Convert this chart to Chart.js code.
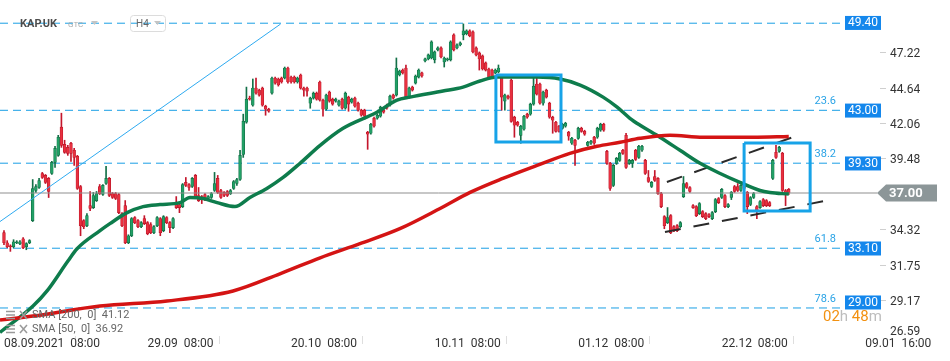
<!DOCTYPE html>
<html><head><meta charset="utf-8">
<script src="https://cdn.jsdelivr.net/npm/chart.js@4.4.1/dist/chart.umd.min.js"></script>
<style>html,body{margin:0;padding:0;background:#fff;overflow:hidden}#wrap{width:950px;height:361px;position:relative}</style>
</head><body><div id="wrap"><canvas id="c" width="950" height="361"></canvas></div>
<script>
// ---- candle data (H4, KAP.UK) ----
const opens=[34.11,33.38,33.16,33.09,33.38,33.31,33.67,33.09,33.38,34.99,
37.18,37.40,38.42,38.28,38.06,38.42,39.23,39.74,41.79,40.54,
40.32,40.62,40.11,39.67,37.47,34.99,34.62,36.08,35.94,36.45,
37.47,36.89,37.69,38.06,36.96,36.96,36.89,35.50,36.08,33.38,
33.89,35.21,34.99,34.55,35.14,34.84,34.70,34.11,34.62,35.14,
34.26,35.21,34.84,34.48,36.23,36.16,36.01,37.77,37.62,37.47,
38.28,36.82,36.74,36.89,36.60,36.67,37.18,38.06,37.18,37.04,
37.11,36.96,37.33,37.69,37.98,39.81,42.15,43.91,43.39,44.64,
44.49,44.64,43.32,43.10,44.27,45.37,45.30,45.37,45.37,46.10,
45.44,45.44,45.08,45.59,44.64,44.64,43.54,43.91,44.27,45.08,
43.76,43.10,44.35,43.83,43.69,43.39,43.83,43.17,43.98,43.61,
43.91,43.54,43.03,43.03,41.42,41.35,42.44,42.44,42.59,43.03,
43.39,43.39,44.13,44.13,45.59,45.95,46.10,43.98,44.71,45.00,
45.44,45.74,46.61,46.76,46.83,46.69,47.42,47.56,46.54,46.69,
46.69,48.51,47.56,47.78,48.51,48.59,48.81,48.73,47.56,47.20,
46.98,46.47,46.03,45.95,45.74,45.81,45.37,43.69,44.05,45.22,
42.52,42.15,41.20,41.64,42.74,42.74,43.47,44.93,44.93,43.54,
44.49,43.54,42.52,42.15,41.86,41.71,41.86,41.42,40.62,40.84,
40.98,41.71,41.49,40.47,40.62,41.06,41.06,41.57,42.00,40.03,
39.16,37.55,39.16,39.37,40.11,41.20,39.16,39.16,40.11,39.59,
40.11,39.37,38.13,37.47,38.20,38.06,36.96,35.28,34.84,35.35,
34.55,34.62,34.55,36.74,37.69,37.40,36.08,36.01,35.50,35.65,
35.50,35.43,35.14,35.65,36.60,36.67,36.82,36.01,36.67,37.47,
37.47,37.18,37.69,37.04,36.16,36.67,36.01,35.94,36.52,36.45,
36.30,38.06,39.96,40.03,39.89,37.18,37.26];
const highs=[34.26,33.53,33.23,33.60,33.53,33.53,33.75,33.38,33.60,37.98,
37.62,38.06,38.50,38.35,38.13,39.30,40.40,41.20,42.81,40.84,
40.47,40.69,40.25,39.74,37.55,35.06,35.50,37.11,37.04,37.11,
37.62,37.62,38.94,38.13,37.04,37.04,36.96,35.57,36.45,33.96,
35.21,35.28,35.06,34.92,35.35,34.92,34.84,34.62,35.28,35.21,
35.35,35.28,34.92,35.21,36.74,36.23,37.69,38.13,37.69,38.13,
38.35,37.40,36.82,36.96,36.82,37.04,38.50,38.28,37.26,37.11,
37.18,37.26,37.91,38.06,40.11,42.74,44.71,44.05,45.30,45.37,
44.56,44.71,43.39,43.17,45.44,45.44,45.37,45.44,46.17,46.17,
45.52,45.52,45.44,45.66,44.71,44.71,43.98,44.35,44.35,45.15,
43.83,44.20,44.42,43.91,43.91,43.76,43.91,44.35,44.05,43.91,
43.98,43.61,43.10,43.10,41.49,42.08,42.52,42.74,43.32,43.10,
43.47,44.13,44.20,46.83,45.95,46.03,46.32,44.71,44.78,45.59,
46.03,45.81,46.83,47.12,48.08,47.34,47.64,47.64,46.90,46.83,
48.08,48.59,47.86,48.00,49.31,48.88,48.88,48.81,47.64,47.27,
47.05,46.54,46.10,46.03,46.03,46.32,45.44,44.20,44.13,45.30,
42.59,42.22,41.93,42.66,42.81,43.54,45.37,45.37,45.00,44.42,
44.56,43.61,42.59,42.22,41.93,42.08,42.15,41.49,41.06,40.91,
41.79,41.79,41.57,40.76,40.84,41.13,41.79,42.08,42.08,40.11,
39.23,39.08,39.59,39.96,40.18,41.35,39.45,39.45,40.18,40.47,
40.47,39.45,38.64,37.84,38.64,38.13,37.04,35.35,35.94,35.43,
34.62,34.70,34.92,38.20,37.77,37.47,36.16,36.08,36.30,35.72,
35.57,35.50,35.65,36.60,36.67,37.33,36.89,36.23,37.11,37.55,
37.69,37.62,37.77,37.11,36.74,37.04,36.08,36.45,36.60,36.52,
36.38,39.45,40.47,40.40,39.96,37.26,37.33];
const lows=[33.23,33.01,32.75,33.01,33.31,33.23,32.94,32.87,33.31,34.92,
37.04,37.33,38.06,37.69,36.67,38.35,38.86,39.67,40.32,39.89,
39.74,39.30,39.01,37.26,33.89,34.40,34.55,35.72,35.87,36.38,
36.89,36.82,37.62,36.74,36.60,36.52,35.50,34.55,33.31,33.31,
33.82,34.77,34.48,34.48,34.70,33.96,34.04,34.04,34.55,33.89,
34.18,34.77,34.11,34.40,35.87,35.57,35.94,37.47,37.18,37.40,
36.67,36.38,36.23,36.45,36.52,36.60,37.11,36.96,36.60,36.74,
36.74,36.89,37.26,37.55,37.91,39.59,42.08,43.76,43.32,44.20,
44.05,43.32,42.66,42.88,44.20,44.93,44.78,45.00,45.30,45.00,
45.00,45.00,45.00,44.56,44.05,44.05,43.17,43.83,43.76,43.69,
42.59,43.03,43.61,43.39,43.61,43.32,43.10,43.10,42.95,43.54,
43.25,42.95,42.59,42.37,40.18,41.28,41.79,42.37,42.52,42.81,
43.10,43.32,43.83,44.05,45.52,45.66,43.91,43.91,44.42,44.93,
45.37,45.44,46.54,46.69,46.76,46.47,47.34,46.83,46.17,46.61,
46.61,47.34,47.49,47.71,48.15,48.51,48.37,47.20,46.98,45.95,
45.95,45.88,45.37,45.37,45.66,45.74,43.03,43.03,43.83,42.15,
41.06,41.86,40.62,41.57,42.44,42.66,43.39,44.13,43.47,43.39,
43.91,42.44,41.35,41.42,41.42,41.64,41.79,40.84,40.54,39.01,
40.91,41.42,41.20,40.40,40.54,40.54,40.98,41.49,41.49,39.08,
37.18,37.47,39.08,39.30,39.81,38.79,39.08,38.86,39.37,39.52,
40.03,38.35,37.77,37.40,37.84,36.89,35.94,34.40,34.77,34.04,
34.18,34.18,34.48,36.67,37.33,37.04,35.87,35.28,35.43,35.21,
35.06,35.21,35.06,35.57,36.23,36.60,35.94,35.94,36.52,37.04,
37.11,37.11,37.26,35.50,36.08,36.60,35.14,35.87,36.01,36.01,
36.01,37.98,39.52,39.96,37.11,36.08,36.89];
const closes=[33.38,33.09,33.09,33.45,33.45,33.45,33.01,33.31,33.53,37.33,
37.47,37.91,38.13,37.77,37.11,39.23,40.25,41.06,40.47,39.96,
39.89,39.89,39.59,37.33,34.62,34.55,35.35,35.87,36.82,36.96,
36.96,37.55,38.06,36.82,36.67,36.60,35.57,34.62,33.38,33.89,
35.14,34.84,34.55,34.84,34.77,34.04,34.11,34.55,35.21,34.11,
35.28,34.84,34.48,35.14,35.94,35.94,37.62,37.55,37.40,38.06,
36.74,36.45,36.52,36.52,36.74,36.96,37.69,37.04,36.67,36.82,
36.82,37.18,37.84,37.98,39.74,42.22,43.83,43.83,44.64,44.27,
44.13,43.39,43.10,42.95,45.37,45.00,44.86,45.08,46.10,45.08,
45.08,45.08,45.37,44.64,44.49,44.42,43.91,44.27,43.83,43.76,
43.10,44.13,43.69,43.47,43.83,43.69,43.17,44.27,43.47,43.83,
43.32,43.03,42.66,42.59,41.28,42.00,41.86,42.66,43.25,42.88,
43.17,44.05,43.91,46.10,45.88,45.74,43.98,44.64,44.49,45.52,
45.95,45.52,46.76,47.05,48.00,47.27,47.56,46.90,46.83,46.76,
48.00,47.42,47.78,47.93,48.81,48.81,48.44,47.27,47.05,46.76,
46.03,45.95,45.44,45.44,45.95,46.10,43.98,44.13,43.91,42.22,
41.93,41.93,41.86,42.59,42.52,43.47,44.78,44.20,43.54,44.35,
43.98,42.52,42.30,41.49,41.49,42.00,42.08,41.13,40.98,40.47,
41.71,41.49,41.28,40.69,40.76,40.62,41.71,42.00,41.57,39.16,
37.33,39.01,39.52,39.89,39.89,38.86,39.37,39.37,39.45,40.40,
40.40,38.42,37.84,37.77,37.91,36.96,36.01,34.62,35.21,34.11,
34.26,34.26,34.84,37.69,37.40,37.11,35.94,35.35,36.23,35.28,
35.14,35.28,35.57,36.52,36.30,37.26,36.01,36.16,37.04,37.11,
37.18,37.55,37.33,36.01,36.67,36.96,35.65,36.38,36.08,36.08,
36.08,39.37,39.59,40.32,37.18,36.89,37.00];

// ---- moving averages ----
const sma50Idx=[-1.25,9.1,13.5,20.1,22.9,30.1,33.2,38.6,43.6,48.9,55.2,58.3,62.4,66.8,72.4,77.1,82.4,87.5,92.8,99.1,106.3,116.9,123.2,127.3,137.6,143.9,149.2,154.5,167.1,174.3,180.6,187.8,192.2,196.2,199.4,205.6,211.9,218.2,224.5,230.7,237,240.1,246];
const sma50Val=[26.85,28.77,29.87,32.07,32.94,34.26,34.77,35.57,36.01,36.16,36.30,36.67,36.60,36.30,36.01,36.67,37.33,38.13,39.16,40.47,41.71,42.88,43.76,43.98,44.42,44.71,45.15,45.44,45.44,45.30,44.86,43.98,43.25,42.44,41.93,41.06,40.11,39.16,38.42,37.77,37.18,37.04,36.92];
const sma200Idx=[-1.25,9.1,30.1,51.1,71.8,86.5,99.1,111.6,124.1,136.7,146.1,156.4,167.1,177.4,185.9,193.1,199.4,208.8,219.1,234.8,246];
const sma200Val=[27.75,28.04,28.77,29.14,29.87,31.12,32.28,33.31,34.40,35.87,37.04,38.06,39.01,39.89,40.40,40.69,40.98,41.20,41.06,41.06,41.12];

// ---- axes ----
const xTickIdx=[0,45,90,135,180,225,270];
const xTickLabels=['08.09.2021  08:00','29.09  08:00','20.10  08:00','10.11  08:00','01.12  08:00','22.12  08:00','09.01  16:00'];
const yTickVals=[29.17,31.75,34.32,39.48,42.06,44.64,47.22];
const yBottomLabel=26.59;

// ---- drawing tools / annotations ----
const fibLevels=[49.36,43.02,39.17,32.98,28.63];
const fibNames=['0.0','23.6','38.2','61.8','78.6'];
const fibBoxText=['49.40','43.00','39.30','33.10','29.00'];
const fibBoxAt=[49.38,43.00,39.15,32.96,29.03];
const lastPrice=37.00;
const trendIdx=[-1.25,86.7], trendVal=[34.92,49.30];
const chanUpIdx=[207.8,248.3], chanUpVal=[37.80,41.15];
const chanLoIdx=[207.2,258.9], chanLoVal=[34.16,36.49];
const rect1Idx=[154.2,174.6], rect1Val=[45.59,40.71];
const rect2Idx=[232.0,252.7], rect2Val=[40.64,35.69];
const lineEndIdx=263.6, priceLineEndIdx=273.7, xMin=-1.25, xMax=274.6;
const sma200Last=41.12, sma50Last=36.92;

Chart.defaults.font.family='Roboto';
const idx=opens.map((_,i)=>i);
const isUp=i=>closes[i]>=opens[i];
const seg=(xs,ys)=>xs.map((v,k)=>({x:v,y:ys[k]}));
const rect=(xs,ys)=>[{x:xs[0],y:ys[0]},{x:xs[1],y:ys[0]},{x:xs[1],y:ys[1]},{x:xs[0],y:ys[1]},{x:xs[0],y:ys[0]}];
const lineDs=(data,color,width,dash,order,extra)=>Object.assign({type:'line',data,borderColor:color,borderWidth:width,borderDash:dash||[],pointRadius:0,fill:false,tension:0,order},extra||{});

const datasets=[
  {type:'bar',data:idx.map(i=>({x:i,y:[lows[i],highs[i]]})),backgroundColor:c=>isUp(c.dataIndex)?'#137048':'#c4162c',barThickness:1,grouped:false,order:5},
  {type:'bar',data:idx.map(i=>({x:i,y:[opens[i],closes[i]]})),backgroundColor:c=>isUp(c.dataIndex)?'#22a066':'#e8303f',borderColor:c=>isUp(c.dataIndex)?'#0f6b42':'#b81528',borderWidth:0.6,borderSkipped:false,barThickness:2.8,minBarLength:1,grouped:false,order:4},
  lineDs(seg(sma200Idx,sma200Val),'#d41414',3.5,null,1,{tension:0.4,cubicInterpolationMode:'monotone'}),
  lineDs(seg(sma50Idx,sma50Val),'#0e7c4c',3.5,null,1,{tension:0.4,cubicInterpolationMode:'monotone'}),
  lineDs(seg([xMin,priceLineEndIdx],[lastPrice,lastPrice]),'#8f8f8f',1,null,3),
  lineDs(seg(trendIdx,trendVal),'#2eaaf0',1,null,2),
  lineDs(seg(chanUpIdx,chanUpVal),'#2a2a2a',2,[16,13],2),
  lineDs(seg(chanLoIdx,chanLoVal),'#2a2a2a',2,[16,13],2),
  lineDs(rect(rect1Idx,rect1Val),'#17a3e8',3,null,0,{borderJoinStyle:'miter'}),
  lineDs(rect(rect2Idx,rect2Val),'#17a3e8',3,null,0,{borderJoinStyle:'miter'})
];
fibLevels.forEach(lv=>datasets.push(lineDs(seg([xMin,lineEndIdx],[lv,lv]),'#1a9fe5',1,[8,5],6)));

const ann={id:'ann',afterDraw(chart){
  const {ctx,chartArea:ca,scales:{y}}=chart;
  ctx.save();
  ctx.font='11px Roboto';ctx.fillStyle='#2aa3e6';ctx.textAlign='right';ctx.textBaseline='middle';
  fibLevels.forEach((lv,k)=>{
    const py=y.getPixelForValue(lv)-9;
    ctx.save();
    if(k===0){ctx.beginPath();ctx.rect(0,17,950,30);ctx.clip();}
    ctx.fillText(fibNames[k],ca.right-44,py);
    ctx.restore();
  });
  ctx.font='12px Roboto';ctx.textAlign='center';
  fibBoxText.forEach((t,k)=>{
    const py=y.getPixelForValue(fibBoxAt[k]);
    ctx.fillStyle='#1487ec';ctx.fillRect(ca.right-35,py-7,36,14);
    ctx.fillStyle='#fff';ctx.fillText(t,ca.right-17,py+0.5);
  });
  const pp=y.getPixelForValue(lastPrice);
  ctx.fillStyle='#8c9698';ctx.beginPath();
  ctx.moveTo(ca.right-3,pp);ctx.lineTo(ca.right+6,pp-8.5);ctx.lineTo(ca.right+57,pp-8.5);
  ctx.lineTo(ca.right+57,pp+8.5);ctx.lineTo(ca.right+6,pp+8.5);ctx.closePath();ctx.fill();
  ctx.fillStyle='#fff';ctx.font='bold 13px Roboto';ctx.textAlign='left';
  ctx.fillText(lastPrice.toFixed(2),ca.right+9,pp+0.5);
  ctx.fillStyle='#333';ctx.font='12px Roboto';
  ctx.fillText(yBottomLabel.toFixed(2),ca.right+10,y.getPixelForValue(yBottomLabel)-4.5);
  ctx.font='15px Roboto';ctx.textAlign='left';
  let cx=ca.right-57;const cy=317;
  [['02','#f29111'],['h ','#bdbdbd'],['48','#f29111'],['m','#bdbdbd']].forEach(([t,c])=>{ctx.fillStyle=c;ctx.fillText(t,cx,cy);cx+=ctx.measureText(t).width;});
  ctx.font='11px Roboto';ctx.fillStyle='#666';
  ctx.fillText('SMA [200,  0]  '+sma200Last.toFixed(2),32,315);
  ctx.fillText('SMA [50,  0]  '+sma50Last.toFixed(2),32,329);
  ctx.strokeStyle='#9a9a9a';ctx.lineWidth=1.5;
  [315,329].forEach(ly=>{
    for(let k=-1;k<=1;k++){ctx.beginPath();ctx.moveTo(6,ly+k*3.5);ctx.lineTo(15,ly+k*3.5);ctx.stroke();}
    ctx.beginPath();ctx.moveTo(20,ly-4);ctx.lineTo(27,ly+4);ctx.moveTo(27,ly-4);ctx.lineTo(20,ly+4);ctx.stroke();
  });
  ctx.font='bold 11px Roboto';ctx.fillStyle='#4d4d4d';ctx.fillText('KAP.UK',20,24);
  ctx.font='8px Roboto';ctx.fillStyle='#aaa';ctx.fillText('GTC',68,25);
  ctx.fillStyle='#c4c4c4';ctx.beginPath();ctx.moveTo(91,21);ctx.lineTo(98,21);ctx.lineTo(94.5,25);ctx.closePath();ctx.fill();
  ctx.strokeStyle='#dcdcdc';ctx.lineWidth=1;
  if(ctx.roundRect){ctx.beginPath();ctx.roundRect(130.5,15.5,35,16,3);ctx.stroke();}else ctx.strokeRect(130.5,15.5,35,16);
  ctx.font='10px Roboto';ctx.fillStyle='#666';ctx.fillText('H4',136,24);
  ctx.fillStyle='#c4c4c4';ctx.beginPath();ctx.moveTo(154,21);ctx.lineTo(161,21);ctx.lineTo(157.5,25);ctx.closePath();ctx.fill();
  ctx.restore();
}};

new Chart(document.getElementById('c'),{
  type:'bar',
  data:{datasets},
  options:{
    responsive:false,animation:false,devicePixelRatio:1,
    layout:{padding:0},
    plugins:{legend:{display:false},tooltip:{enabled:false}},
    scales:{
      x:{type:'linear',min:xMin,max:xMax,offset:false,
        afterBuildTicks:s=>{s.ticks=xTickIdx.map(v=>({value:v}));},
        afterFit:s=>{s.height=25;s.paddingLeft=0;s.paddingRight=0;},
        ticks:{autoSkip:false,maxRotation:0,align:'start',padding:-7,color:'#333',font:{size:12},
          callback:v=>xTickLabels[xTickIdx.indexOf(v)]},
        grid:{drawOnChartArea:false,drawTicks:true,tickLength:8,color:'#dedede'},
        border:{display:false}},
      y:{position:'right',min:26.59,max:51.05,
        afterBuildTicks:s=>{s.ticks=yTickVals.map(v=>({value:v}));},
        afterFit:s=>{s.width=70;s.paddingTop=0;s.paddingBottom=0;},
        ticks:{color:'#333',font:{size:12},padding:4,labelOffset:1.5,callback:v=>Number(v).toFixed(2)},
        grid:{drawOnChartArea:false,drawTicks:true,tickLength:6,color:'#cfcfcf'},
        border:{display:false}}
    }
  },
  plugins:[ann]
});
</script></body></html>
